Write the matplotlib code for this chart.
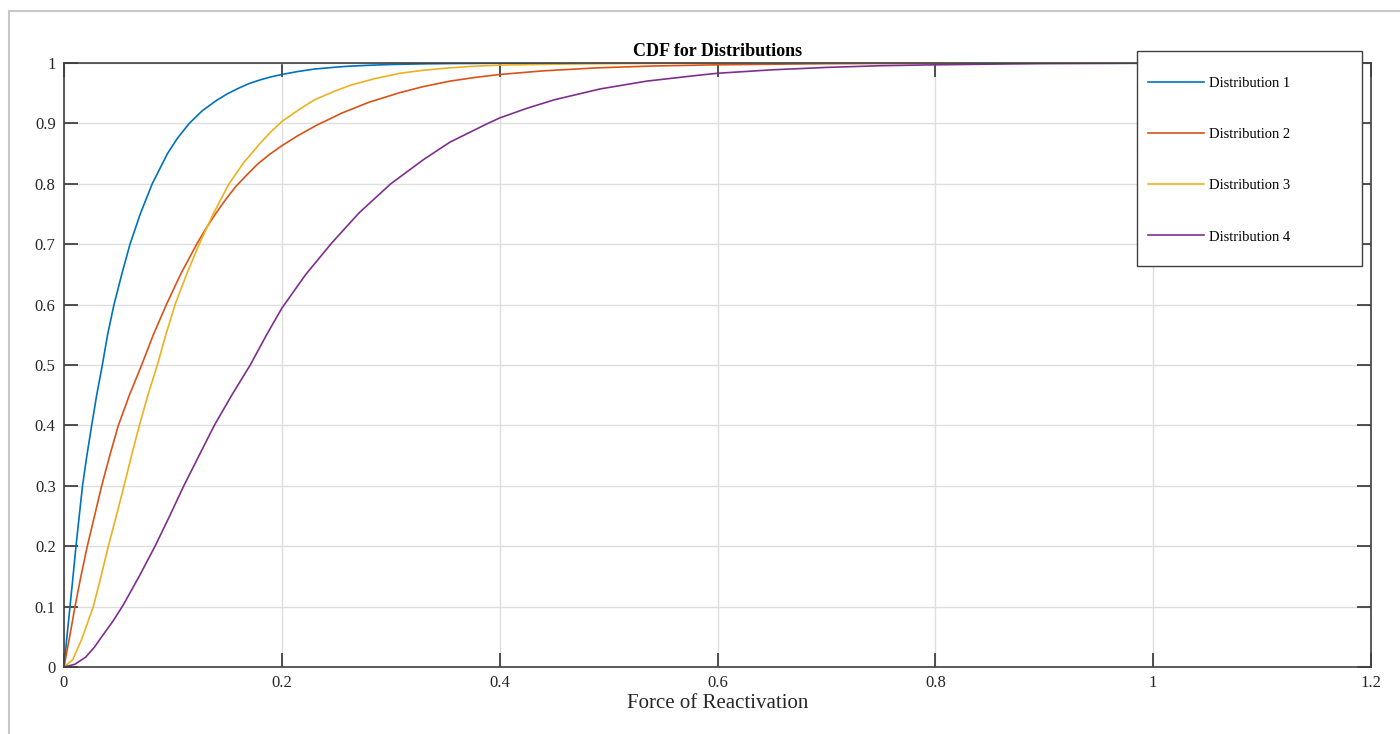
import numpy as np
import matplotlib.pyplot as plt
from matplotlib.patches import Rectangle

plt.rcParams['font.family'] = ['Liberation Serif', 'DejaVu Serif']

# Values
x1 = [0, 0.0027, 0.0055, 0.0083, 0.011, 0.014, 0.017, 0.021, 0.0254, 0.030,
      0.0352, 0.040, 0.0459, 0.053, 0.0606, 0.070, 0.081, 0.088, 0.095, 0.104,
      0.115, 0.127, 0.14, 0.15, 0.16, 0.17, 0.18, 0.19, 0.20, 0.215,
      0.23, 0.25, 0.2626, 0.28, 0.30, 0.33, 0.3544, 0.40, 0.45, 0.5, 0.6, 1.2]
y1 = [0, 0.05, 0.1, 0.15, 0.2, 0.25, 0.3, 0.35, 0.4, 0.45,
      0.5, 0.55, 0.6, 0.65, 0.7, 0.75, 0.8, 0.825, 0.85, 0.875,
      0.9, 0.921, 0.938, 0.949, 0.958, 0.966, 0.972, 0.977, 0.981, 0.986,
      0.990, 0.9932, 0.9948, 0.9962, 0.9975, 0.9986, 0.9991, 0.9996, 0.9998, 0.9999, 1.0, 1.0]

x2 = [0, 0.005, 0.0101, 0.0155, 0.0214, 0.028, 0.0346, 0.042, 0.0499, 0.060,
      0.0713, 0.082, 0.094, 0.107, 0.1218, 0.130, 0.139, 0.148, 0.1575, 0.168,
      0.178, 0.189, 0.20, 0.215, 0.232, 0.255, 0.28, 0.3085, 0.33, 0.3544,
      0.377, 0.40, 0.44, 0.49, 0.54, 0.6, 0.7, 0.8, 0.9, 1.0, 1.2]
y2 = [0, 0.048, 0.1, 0.15, 0.2, 0.25, 0.3, 0.35, 0.4, 0.45,
      0.5, 0.55, 0.6, 0.65, 0.7, 0.725, 0.75, 0.773, 0.795, 0.815,
      0.833, 0.849, 0.863, 0.88, 0.897, 0.917, 0.935, 0.951, 0.961, 0.97,
      0.976, 0.981, 0.987, 0.992, 0.995, 0.997, 0.9989, 0.9996, 0.9998, 0.9999, 1.0]

x3 = [0, 0.008, 0.016, 0.021, 0.0269, 0.034, 0.0407, 0.048, 0.0551, 0.062,
      0.0692, 0.077, 0.0857, 0.0935, 0.102, 0.1125, 0.1241, 0.137, 0.1515, 0.165,
      0.18, 0.19, 0.20, 0.215, 0.23, 0.248, 0.2626, 0.285, 0.3085, 0.33,
      0.3544, 0.375, 0.40, 0.45, 0.5, 0.55, 0.7, 1.2]
y3 = [0, 0.012, 0.045, 0.07, 0.1, 0.15, 0.2, 0.25, 0.3, 0.35,
      0.4, 0.45, 0.5, 0.55, 0.6, 0.65, 0.7, 0.75, 0.8, 0.835,
      0.867, 0.886, 0.903, 0.922, 0.939, 0.953, 0.963, 0.974, 0.983, 0.988,
      0.992, 0.9945, 0.9965, 0.998, 0.999, 0.9995, 1.0, 1.0]

x4 = [0, 0.01, 0.02, 0.028, 0.0346, 0.045, 0.0545, 0.069, 0.0836, 0.097,
      0.110, 0.124, 0.138, 0.154, 0.171, 0.186, 0.20, 0.222, 0.2458, 0.271,
      0.30, 0.33, 0.3544, 0.388, 0.40, 0.425, 0.45, 0.4921, 0.535, 0.5839,
      0.6, 0.65, 0.7, 0.75, 0.8, 0.87, 0.9, 1.0, 1.2]
y4 = [0, 0.0045, 0.0165, 0.033, 0.05, 0.076, 0.103, 0.15, 0.2, 0.25,
      0.3, 0.35, 0.4, 0.45, 0.5, 0.55, 0.594, 0.65, 0.702, 0.752,
      0.8, 0.84, 0.869, 0.899, 0.909, 0.925, 0.939, 0.957, 0.970, 0.980,
      0.983, 0.9887, 0.9927, 0.9955, 0.997, 0.9985, 0.999, 0.9996, 1.0]

labels = ['Distribution 1', 'Distribution 2', 'Distribution 3', 'Distribution 4']
colors = ['#0072BD', '#D95319', '#EDB120', '#7E2F8E']

fig = plt.figure(figsize=(14, 7.34), dpi=100)
ax = fig.add_axes([64 / 1400, 67 / 734, 1307 / 1400, 604 / 734])

for xs, ys, lab, c in zip([x1, x2, x3, x4], [y1, y2, y3, y4], labels, colors):
    ax.plot(xs, ys, color=c, lw=1.2, label=lab)

ax.set_xlim(0, 1.2)
ax.set_ylim(0, 1)
ax.set_xticks(np.arange(0, 1.21, 0.2))
ax.set_yticks(np.arange(0, 1.01, 0.1))
ax.set_xticklabels(['0', '0.2', '0.4', '0.6', '0.8', '1', '1.2'])
ax.set_yticklabels(['0', '0.1', '0.2', '0.3', '0.4', '0.5', '0.6', '0.7', '0.8', '0.9', '1'])
ax.grid(True, color='#dedede', lw=1)
ax.set_axisbelow(True)
ax.tick_params(direction='in', length=10, width=1.2, color='#333333',
               top=True, right=True, labelsize=12, labelcolor='#262626', pad=6)
for s in ax.spines.values():
    s.set_color('#404040')
    s.set_linewidth(1.2)

ax.set_title('CDF for Distributions', fontsize=13, fontweight='bold', pad=5)
ax.set_xlabel('Force of Reactivation', fontsize=15, color='#262626', labelpad=2)

# legend box drawn as its own rectangle, entries placed inside it
box = Rectangle((1137 / 1400, 1 - 266 / 734), 225 / 1400, 215 / 734,
                transform=fig.transFigure, facecolor='white', edgecolor='#404040',
                lw=1.0, clip_on=False, zorder=4.5)
ax.add_patch(box)
leg = ax.legend(loc='upper left', bbox_to_anchor=(1148 / 1400, 1 - 77 / 734),
                bbox_transform=fig.transFigure, fontsize=10.5, frameon=False,
                labelspacing=2.6, handlelength=3.84, handletextpad=0.34,
                borderpad=0, borderaxespad=0)
leg.set_zorder(5)

# light border around the figure area
fig.patches.append(Rectangle((9 / 1400, -0.1), 1.1, 1 - 11 / 734 + 0.1,
                             transform=fig.transFigure, fill=False,
                             edgecolor='#c8c8c8', lw=1.5))

fig.savefig('out.png', dpi=100)
